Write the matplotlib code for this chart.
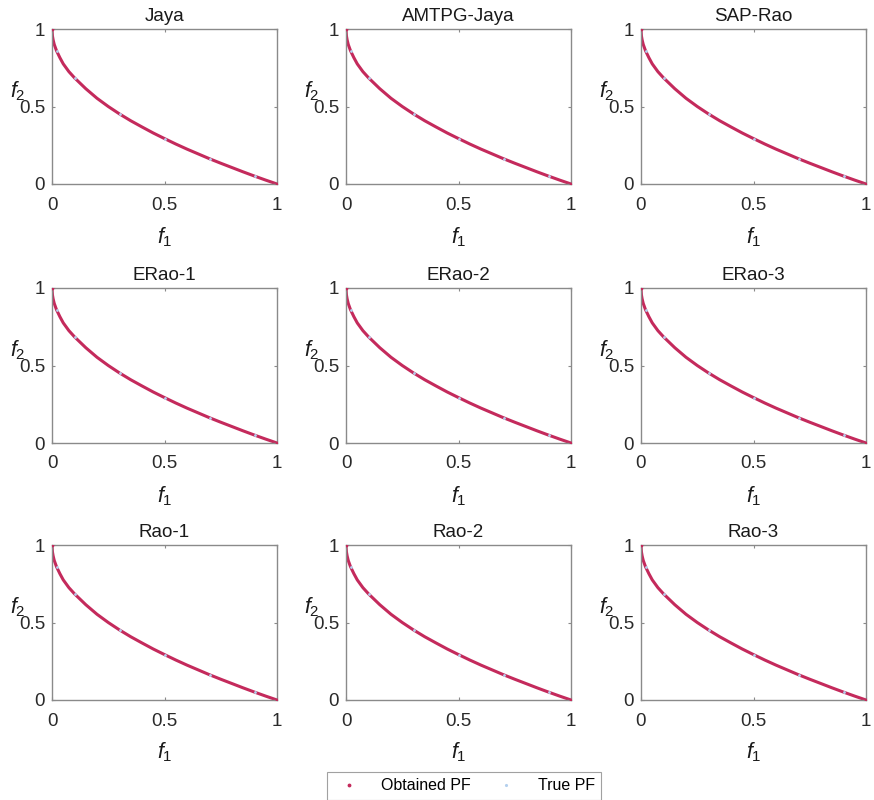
import numpy as np
import matplotlib
matplotlib.use("Agg")
import matplotlib.pyplot as plt
from matplotlib.lines import Line2D

plt.rcParams['font.family'] = ['Liberation Sans', 'DejaVu Sans']
plt.rcParams['mathtext.fontset'] = 'custom'
plt.rcParams['mathtext.rm'] = 'Liberation Sans'
plt.rcParams['mathtext.it'] = 'Liberation Sans:italic'

titles = ["Jaya", "AMTPG-Jaya", "SAP-Rao",
          "ERao-1", "ERao-2", "ERao-3",
          "Rao-1", "Rao-2", "Rao-3"]

# front (same shape in every panel)
pf_f1 = [0.0, 0.002, 0.005, 0.01, 0.02, 0.035, 0.05, 0.075, 0.1, 0.15, 0.2, 0.25,
         0.3, 0.35, 0.4, 0.45, 0.5, 0.55, 0.6, 0.65, 0.7, 0.75, 0.8, 0.85, 0.9, 0.95, 1.0]
pf_f2 = [1.0, 0.955, 0.93, 0.9, 0.86, 0.815, 0.775, 0.725, 0.685, 0.615, 0.553, 0.5,
         0.452, 0.408, 0.368, 0.329, 0.293, 0.258, 0.225, 0.194, 0.163, 0.134, 0.106, 0.078, 0.051, 0.025, 0.0]

red = "#c42a5c"
blue = "#b4d0ee"
grey = "#8a8a8a"
txt = "#2a2a2a"

fig = plt.figure(figsize=(8.74, 8.0), dpi=100)
W, H = 874.0, 800.0
lefts = [52, 346, 641]
tops = [29, 288, 545]
aw, ah = 225, 155

for i, name in enumerate(titles):
    r, c = divmod(i, 3)
    ax = fig.add_axes([lefts[c] / W, 1 - (tops[r] + ah) / H, aw / W, ah / H])
    ax.plot(pf_f1, pf_f2, color=red, lw=2.2, solid_capstyle='round', zorder=2)
    ax.plot(pf_f1[4::4], pf_f2[4::4], ls='none', marker='.', ms=2.0, color=blue, zorder=3)
    ax.plot([0, 1], [1, 0], ls='none', marker='.', ms=3.5, color=red, zorder=4)
    ax.set_xlim(0, 1)
    ax.set_ylim(0, 1)
    ax.set_xticks([0, 0.5, 1])
    ax.set_yticks([0, 0.5, 1])
    ax.set_xticklabels(["0", "0.5", "1"])
    ax.set_yticklabels(["0", "0.5", "1"])
    ax.tick_params(direction='in', length=2.5, width=0.8, colors=grey,
                   labelcolor=txt, labelsize=13.5, top=True, right=True)
    ax.tick_params(axis='x', pad=9)
    ax.tick_params(axis='y', pad=5)
    for s in ax.spines.values():
        s.set_color(grey)
        s.set_linewidth(1.0)
    ax.set_title(name, fontsize=13.5, color="#1a1a1a", pad=6)
    ax.text(0.5, -0.34, r"$f_{\mathit{1}}$", transform=ax.transAxes,
            ha='center', va='center', fontsize=15.5, color="#1a1a1a")
    ax.text(-0.15, 0.6, r"$f_{\mathit{2}}$", transform=ax.transAxes,
            ha='center', va='center', fontsize=15.5, color="#1a1a1a")

handles = [Line2D([], [], ls='none', marker='.', ms=3.5, color=red),
           Line2D([], [], ls='none', marker='.', ms=2.5, color=blue)]
leg = fig.legend(handles, ["Obtained PF", "True PF"], loc='center',
                 bbox_to_anchor=(464 / W, 1 - 786 / H), ncol=2, fontsize=11.5,
                 frameon=True, fancybox=False, edgecolor=grey,
                 handletextpad=1.0, columnspacing=1.2, borderpad=0.4)
leg.get_frame().set_linewidth(0.8)

fig.savefig("out.png", dpi=100)
